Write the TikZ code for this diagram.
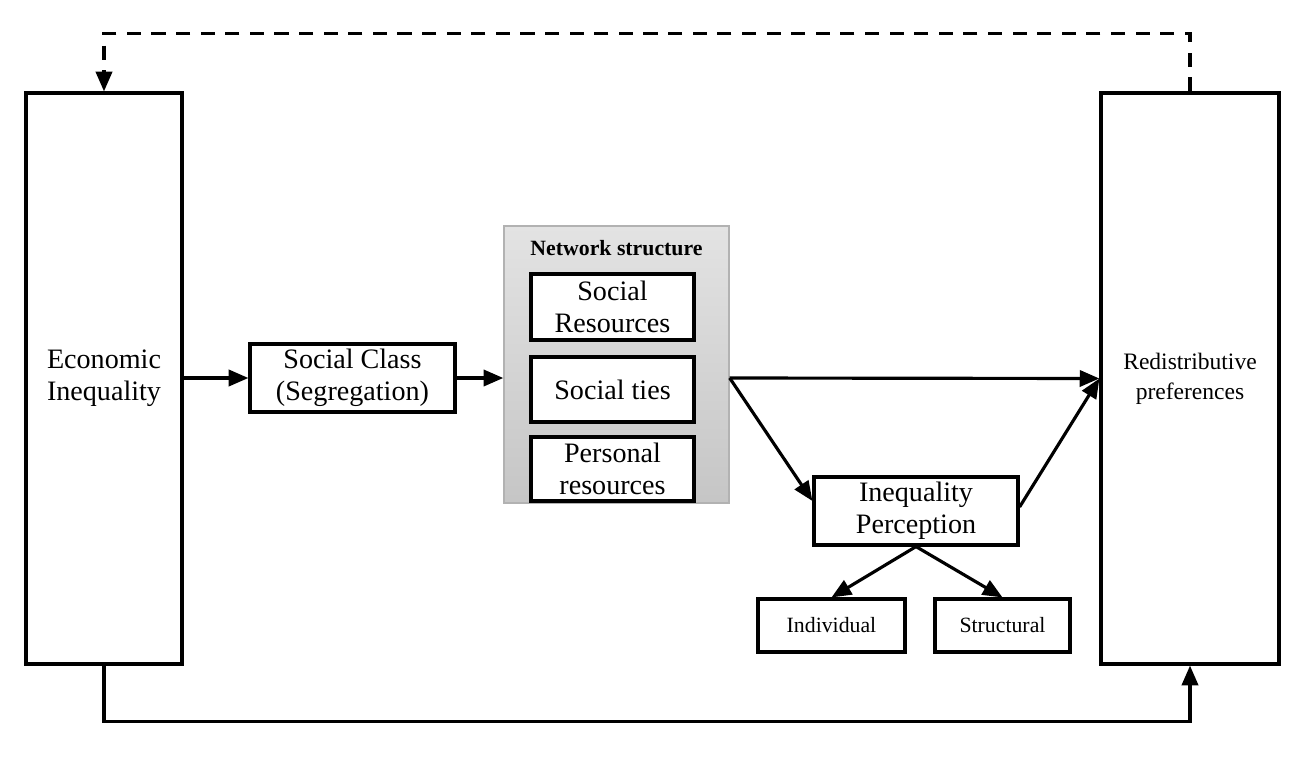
\documentclass[tikz,border=0pt]{standalone}
\usepackage{fontspec}
\setmainfont{Liberation Serif}
\usetikzlibrary{arrows.meta,positioning,calc}

\tikzset{
  box/.style={draw,line width=0.9pt,align=center,inner sep=0pt,
    font=\fontsize{8}{9.1}\selectfont},
  smallbox/.style={box,font=\fontsize{6.2}{7.5}\selectfont},
  flow/.style={line width=0.9pt,-{Triangle[length=5.6pt,width=4.6pt]}}
}

\begin{document}
\begin{tikzpicture}
  \useasboundingbox (0,0) rectangle (13.16,7.7);

  % outer boxes
  \node[box,minimum width=1.56cm,minimum height=5.71cm] (econ) at (1.04,3.915) {Economic\\Inequality};
  \node[box,minimum width=1.78cm,minimum height=5.71cm,font=\fontsize{6.7}{8.6}\selectfont] (redis) at (11.90,3.915) {Redistributive\\preferences};

  \node[box,minimum width=2.05cm,minimum height=0.68cm] (class) at (3.525,3.92) {Social Class\\(Segregation)};

  % network structure
  \node[draw=gray!60,top color=gray!22,bottom color=gray!45,minimum width=2.25cm,minimum height=2.77cm] (net) at (6.165,4.055) {};
  \node[font=\fontsize{6.2}{7.5}\selectfont\bfseries] (nettitle) at (6.165,5.22) {Network structure};
  \node[box,fill=white,minimum width=1.63cm,minimum height=0.66cm] (res) at (6.125,4.63) {Social\\Resources};
  \node[box,fill=white,minimum width=1.63cm,minimum height=0.65cm] (ties) at (6.125,3.805) {Social ties};
  \node[box,fill=white,minimum width=1.63cm,minimum height=0.64cm] (pers) at (6.125,3.01) {Personal\\resources};

  % perception
  \node[box,minimum width=2.04cm,minimum height=0.68cm] (perc) at (9.16,2.59) {Inequality\\Perception};
  \node[smallbox,minimum width=1.47cm,minimum height=0.53cm] (indiv) at (8.315,1.445) {Individual};
  \node[smallbox,minimum width=1.35cm,minimum height=0.53cm] (struc) at (10.025,1.445) {Structural};

  \coordinate (fork) at (net.east |- class.east);

  \draw[flow] (econ.east |- class.west) -- (class.west);
  \draw[flow] (class.east) -- (net.west |- class.east);
  \draw[flow] (fork) -- (redis.west);
  \draw[flow] (fork) -- ([yshift=1mm]perc.west);
  \draw[flow] ([yshift=0.4mm]perc.east) -- (redis.west);
  \draw[flow] (perc.south) -- (indiv.north);
  \draw[flow] (perc.south) -- (struc.north);

  % feedback loops
  \draw[flow,dash pattern=on 4pt off 3pt] (redis.north) -- ++(0,0.58) -| (econ.north);
  \draw[flow] (econ.south) -- ++(0,-0.56) -| (redis.south);
\end{tikzpicture}
\end{document}
